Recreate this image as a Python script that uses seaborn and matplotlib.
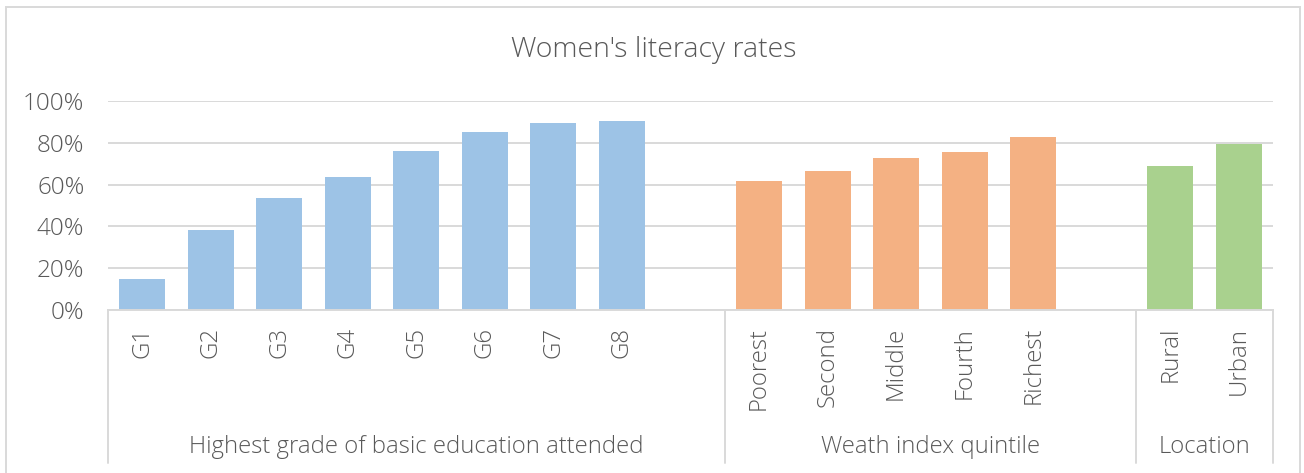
import matplotlib
matplotlib.use("Agg")
import matplotlib.pyplot as plt
import matplotlib.transforms as mtransforms
from matplotlib.patches import Rectangle
from matplotlib.ticker import PercentFormatter, MultipleLocator
import numpy as np
import pandas as pd
import seaborn as sns

# ---- data ----
grades = ["G1", "G2", "G3", "G4", "G5", "G6", "G7", "G8"]
grade_vals = [15.0, 38.3, 53.6, 63.6, 76.1, 85.2, 89.5, 90.4]
wealth = ["Poorest", "Second", "Middle", "Fourth", "Richest"]
wealth_vals = [61.7, 66.5, 72.7, 75.6, 82.8]
location = ["Rural", "Urban"]
location_vals = [68.9, 79.4]
groups = ["Highest grade of basic education attended", "Weath index quintile", "Location"]
colors = ["#9DC3E6", "#F4B183", "#A9D18E"]
title = "Women's literacy rates"

# ---- frame ----
df = pd.DataFrame({
    "category": grades + wealth + location,
    "value": grade_vals + wealth_vals + location_vals,
    "group": [groups[0]] * len(grades) + [groups[1]] * len(wealth) + [groups[2]] * len(location),
})
order = grades + [" "] + wealth + ["  "] + location

sns.set_style("white")
plt.rcParams["font.family"] = ["Open Sans", "DejaVu Sans"]
plt.rcParams["font.weight"] = "light"

W, H = 1304, 473
fig = plt.figure(figsize=(W / 100, H / 100), dpi=100)
ax_left, ax_right, ax_bottom, ax_top = 108, 1273, 310, 101
ax = fig.add_axes([ax_left / W, 1 - ax_bottom / H, (ax_right - ax_left) / W, (ax_bottom - ax_top) / H])

sns.barplot(data=df, x="category", y="value", hue="group", order=order, hue_order=groups,
            palette=colors, dodge=False, width=0.67, saturation=1, legend=False,
            linewidth=0, edgecolor="none", ax=ax)

grid_c = "#D9D9D9"
text_c = "#595959"

ax.set_xlim(-0.5, len(order) - 0.5)
ax.set_ylim(0, 100)
ax.yaxis.set_major_locator(MultipleLocator(20))
ax.yaxis.set_major_formatter(PercentFormatter(100, decimals=0))
ax.yaxis.grid(True, color=grid_c, lw=1.4)
ax.set_axisbelow(True)
for s in ["left", "top", "right"]:
    ax.spines[s].set_visible(False)
ax.spines["bottom"].set_color(grid_c)
ax.spines["bottom"].set_linewidth(1.4)
ax.set_xlabel("")
ax.set_ylabel("")
ax.tick_params(axis="x", length=0, pad=12, labelsize=17.3, labelcolor=text_c, labelrotation=90)
ax.tick_params(axis="y", length=0, pad=17, labelsize=17.5, labelcolor=text_c)

# group dividers and labels
trans = mtransforms.blended_transform_factory(ax.transData, ax.transAxes)
ax_h = ax_bottom - ax_top
y_low = -(463 - ax_bottom) / ax_h
bounds = [-0.5, len(grades) + 0.5, len(grades) + len(wealth) + 1.5, len(order) - 0.5]
for b in bounds:
    ax.plot([b, b], [0, y_low], transform=trans, color=grid_c, lw=1.4, clip_on=False)
y_lab = -(447 - ax_bottom) / ax_h
for i, g in enumerate(groups):
    ax.text((bounds[i] + bounds[i + 1]) / 2, y_lab, g, transform=trans, ha="center", va="center",
            fontsize=17.2, color=text_c)

# title
fig.text(654 / W, 1 - 50 / H, title, ha="center", va="center", fontsize=20.5, color=text_c)

# chart border
fig.patches.append(Rectangle((5.5 / W, -0.1), (1300 - 5.5) / W, 1 - 7.5 / H + 0.1,
                             transform=fig.transFigure, fill=False, ec=grid_c, lw=1.4))

fig.savefig("out.png", dpi=100)
